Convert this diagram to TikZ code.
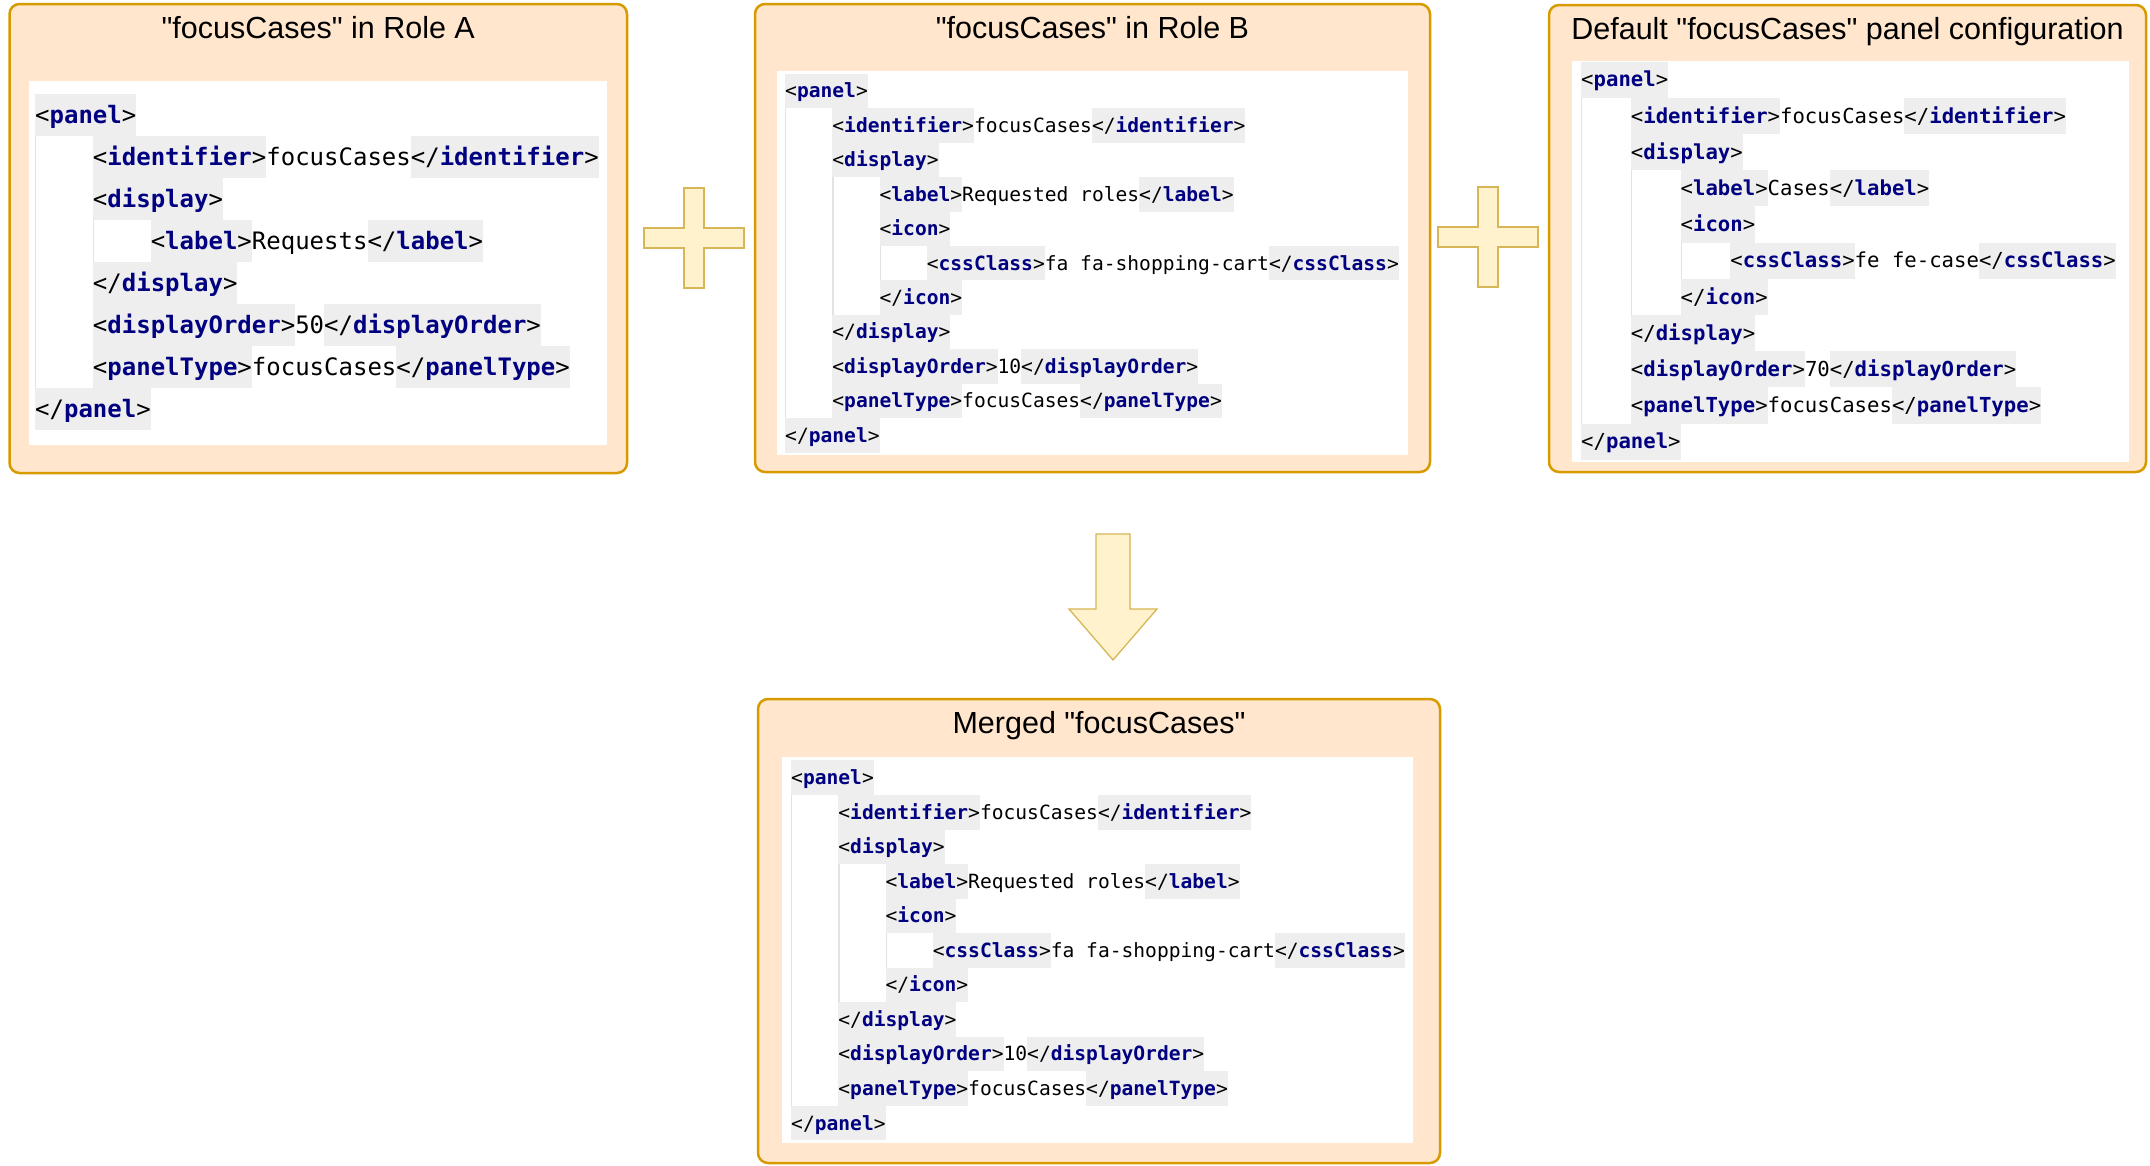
\documentclass[tikz,border=0pt]{standalone}
\usepackage{fontspec}
\setsansfont{Liberation Sans}[Ligatures=TeXOff]
\setmonofont{DejaVu Sans Mono}
\usepackage{tikz}
\usetikzlibrary{positioning}

\definecolor{boxfill}{HTML}{FFE6CC}
\definecolor{boxline}{HTML}{D79B00}
\definecolor{signfill}{HTML}{FFF2CC}
\definecolor{signline}{HTML}{D6B656}
\definecolor{tagshade}{HTML}{EEEEEE}
\definecolor{tagname}{HTML}{000080}
\definecolor{guideline}{HTML}{E2E2E2}

\newcommand\xmlfont[2]{\ttfamily\fontsize{#1}{#2}\selectfont\setlength{\fboxsep}{0pt}}
\newcommand\lvl{\rlap{\color{guideline}\vrule width 1.2pt height\ht\strutbox depth\dp\strutbox}\hspace*{4\fontcharwd\font`x}}
\newcommand\otag[1]{\colorbox{tagshade}{\strut<\textbf{\color{tagname}#1}>}}
\newcommand\ctag[1]{\colorbox{tagshade}{\strut</\textbf{\color{tagname}#1}>}}

\tikzset{
	panelbox/.style={draw=boxline, fill=boxfill, line width=2.5pt, rounded corners=10pt},
	boxtitle/.style={font=\sffamily\fontsize{30.5}{36}\selectfont, inner sep=0pt, text height=22pt, text depth=0pt},
	codearea/.style={fill=white, inner sep=0pt},
	codetext/.style={anchor=north west, inner sep=0pt, align=left, text=black},
	signshape/.style={draw=signline, fill=signfill, line width=1.3pt, line join=miter},
	plussign/.pic={
		\draw[signshape] (-10,-50) -- (10,-50) -- (10,-10) -- (50,-10) -- (50,10) -- (10,10)
			-- (10,50) -- (-10,50) -- (-10,10) -- (-50,10) -- (-50,-10) -- (-10,-10) -- cycle;
	}
}

\begin{document}
\begin{tikzpicture}[x=1pt, y=-1pt]
	
	\useasboundingbox (0,0) rectangle (2150,1165);
	
	\node[panelbox, minimum width=617.5, minimum height=469] (roleA)   at (318.25, 238.5) {};
	\node[panelbox, minimum width=675,   minimum height=468] (roleB)   at (1092.5, 238)   {};
	\node[panelbox, minimum width=597,   minimum height=467] (deflt)   at (1847.5, 238.5) {};
	\node[panelbox, minimum width=682,   minimum height=464] (merged)  at (1099, 931)     {};
	
	\node[boxtitle, below=14pt of roleA.north]  (roleAtitle)  {"focusCases" in Role A};
	\node[boxtitle, below=14pt of roleB.north]  (roleBtitle)  {"focusCases" in Role B};
	\node[boxtitle, below=14pt of deflt.north]  (deflttitle)  {Default "focusCases" panel configuration};
	\node[boxtitle, below=14pt of merged.north] (mergedtitle) {Merged "focusCases"};
	
	\node[codearea, minimum width=578, minimum height=364] (roleAcode)  at (318, 263)     {};
	\node[codearea, minimum width=631, minimum height=384] (roleBcode)  at (1092.5, 263)  {};
	\node[codearea, minimum width=557, minimum height=401] (defltcode)  at (1850.5, 261.5) {};
	\node[codearea, minimum width=631, minimum height=386] (mergedcode) at (1097.5, 950)  {};
	
	\node[codetext, font=\xmlfont{24}{42}] (roleAxml) at (35, 94) {%
		\otag{panel}\\
		\lvl\otag{identifier}focusCases\ctag{identifier}\\
		\lvl\otag{display}\\
		\lvl\lvl\otag{label}Requests\ctag{label}\\
		\lvl\ctag{display}\\
		\lvl\otag{displayOrder}50\ctag{displayOrder}\\
		\lvl\otag{panelType}focusCases\ctag{panelType}\\
		\ctag{panel}};
	
	\node[codetext, font=\xmlfont{19.6}{34.45}] (roleBxml) at (785, 73.5) {%
		\otag{panel}\\
		\lvl\otag{identifier}focusCases\ctag{identifier}\\
		\lvl\otag{display}\\
		\lvl\lvl\otag{label}Requested roles\ctag{label}\\
		\lvl\lvl\otag{icon}\\
		\lvl\lvl\lvl\otag{cssClass}fa fa-shopping-cart\ctag{cssClass}\\
		\lvl\lvl\ctag{icon}\\
		\lvl\ctag{display}\\
		\lvl\otag{displayOrder}10\ctag{displayOrder}\\
		\lvl\otag{panelType}focusCases\ctag{panelType}\\
		\ctag{panel}};
	
	\node[codetext, font=\xmlfont{20.65}{36.2}] (defltxml) at (1581, 61.4) {%
		\otag{panel}\\
		\lvl\otag{identifier}focusCases\ctag{identifier}\\
		\lvl\otag{display}\\
		\lvl\lvl\otag{label}Cases\ctag{label}\\
		\lvl\lvl\otag{icon}\\
		\lvl\lvl\lvl\otag{cssClass}fe fe-case\ctag{cssClass}\\
		\lvl\lvl\ctag{icon}\\
		\lvl\ctag{display}\\
		\lvl\otag{displayOrder}70\ctag{displayOrder}\\
		\lvl\otag{panelType}focusCases\ctag{panelType}\\
		\ctag{panel}};
	
	\node[codetext, font=\xmlfont{19.6}{34.55}] (mergedxml) at (791, 760.2) {%
		\otag{panel}\\
		\lvl\otag{identifier}focusCases\ctag{identifier}\\
		\lvl\otag{display}\\
		\lvl\lvl\otag{label}Requested roles\ctag{label}\\
		\lvl\lvl\otag{icon}\\
		\lvl\lvl\lvl\otag{cssClass}fa fa-shopping-cart\ctag{cssClass}\\
		\lvl\lvl\ctag{icon}\\
		\lvl\ctag{display}\\
		\lvl\otag{displayOrder}10\ctag{displayOrder}\\
		\lvl\otag{panelType}focusCases\ctag{panelType}\\
		\ctag{panel}};
	
	\pic at (694, 238)  {plussign};
	\pic at (1488, 237) {plussign};
	
	\draw[signshape] (1096,534) -- (1130,534) -- (1130,609) -- (1157,609) -- (1113,660)
		-- (1069,609) -- (1096,609) -- cycle;
	
\end{tikzpicture}
\end{document}
